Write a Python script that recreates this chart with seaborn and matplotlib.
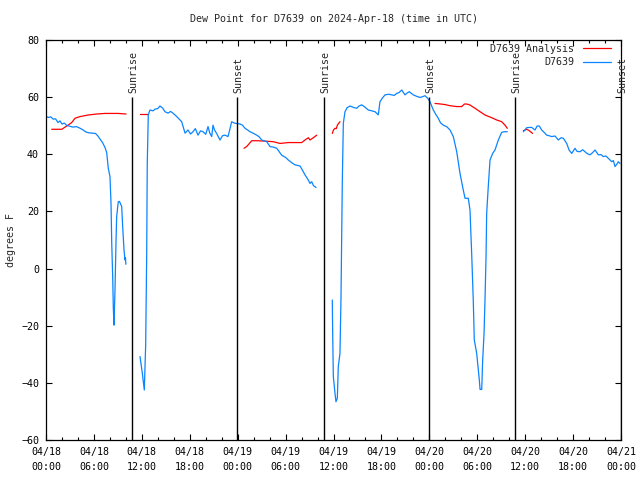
import numpy as np
import pandas as pd
import matplotlib
matplotlib.use("Agg")
import matplotlib.pyplot as plt
import matplotlib.dates as mdates
from matplotlib.lines import Line2D
import seaborn as sns

# hours after 2024-04-18 00:00 UTC, dew point in F
obs_hours = [
    [0.0, 0.3, 0.6, 0.9, 1.2, 1.5, 1.75, 2.0, 2.3, 2.6, 3.0, 3.4, 3.8, 4.2, 4.6, 5.0, 5.4,
     5.8, 6.2, 6.5, 6.8, 7.1, 7.4, 7.6, 7.8, 8.01, 8.14, 8.23, 8.35, 8.43, 8.51, 8.64, 8.77,
     8.85, 9.05, 9.2, 9.48, 9.6, 9.77, 9.89, 9.95, 10.0],
    [11.77, 12.06, 12.31, 12.48, 12.61, 12.68, 12.81, 13.02, 13.4, 13.65, 14.0, 14.27, 14.6,
     14.9, 15.28, 15.6, 15.9, 16.37, 16.99, 17.41, 17.78, 18.1, 18.41, 18.7, 19.03, 19.35,
     19.66, 20.0, 20.29, 20.5, 20.75, 20.91, 21.1, 21.37, 21.6, 21.79, 22.1, 22.41, 22.79,
     23.0, 23.25, 23.6, 23.88, 24.29, 24.6, 24.92, 25.2, 25.54, 26.0, 26.38, 26.7, 27.01,
     27.64, 28.05, 28.5, 28.89, 29.51, 30.0, 30.34, 30.8, 31.18, 31.81, 32.1, 32.43, 32.8,
     33.06, 33.27, 33.5, 33.81],
    [35.85, 35.9, 35.98, 36.19, 36.31, 36.48, 36.6, 36.81, 36.94, 37.1, 37.23, 37.44, 37.7,
     38.07, 38.5, 38.91, 39.2, 39.53, 39.9, 40.36, 40.8, 41.2, 41.61, 41.82, 42.1, 42.45,
     42.9, 43.29, 43.6, 43.91, 44.2, 44.54, 44.95, 45.2, 45.49, 45.99, 46.4, 46.83, 47.1,
     47.46, 47.8, 48.08, 48.5, 48.8, 49.12, 49.4, 49.75, 50.2, 50.59, 51.0, 51.43, 51.84,
     52.25, 52.47, 52.88, 53.09, 53.3, 53.5, 53.63, 53.93, 54.26, 54.35, 54.56, 54.68,
     54.85, 54.97, 55.1, 55.18, 55.38, 55.6, 55.93, 56.22, 56.64, 57.06, 57.4, 57.76],
    [59.77, 60.0, 60.19, 60.5, 60.82, 61.23, 61.5, 61.77, 62.07, 62.4, 62.7, 63.0, 63.32,
     63.74, 64.15, 64.5, 64.78, 65.2, 65.5, 65.83, 66.24, 66.5, 66.87, 67.2, 67.49, 67.8,
     68.12, 68.45, 68.75, 69.16, 69.5, 69.78, 70.1, 70.41, 70.84, 71.05, 71.25, 71.5,
     71.66, 71.87],
]
obs_dew = [
    [53.2, 52.9, 53.1, 52.3, 52.4, 51.1, 51.7, 50.6, 50.9, 50.1, 49.8, 49.5, 49.7, 49.2,
     48.6, 47.8, 47.5, 47.4, 47.3, 46.4, 45.2, 44.0, 42.3, 40.6, 35.1, 32.2, 22.9, 8.9, -2.8,
     -13.8, -19.8, -7.5, 10.0, 18.2, 23.4, 23.5, 21.7, 14.7, 6.5, 3.0, 3.8, 1.5],
    [-30.8, -36.6, -42.5, -26.8, 5.4, 37.0, 53.8, 55.5, 55.2, 55.8, 56.0, 56.9, 56.2, 54.9,
     54.4, 55.0, 54.4, 53.2, 51.4, 47.4, 48.5, 47.1, 47.9, 49.0, 46.7, 48.2, 47.9, 47.0,
     49.7, 47.5, 46.2, 50.2, 48.5, 47.3, 46.0, 45.0, 46.5, 46.7, 46.2, 48.5, 51.4, 50.9,
     50.8, 50.6, 50.2, 49.1, 48.6, 47.9, 47.3, 46.7, 46.1, 45.0, 44.4, 42.7, 42.5, 42.1, 39.7,
     38.9, 38.0, 37.0, 36.3, 35.9, 34.5, 32.8, 31.2, 29.8, 30.4, 29.0, 28.4],
    [-11.0, -23.3, -37.8, -43.7, -46.6, -45.4, -34.3, -29.7, -9.8, 29.8, 50.8, 54.9, 56.3,
     56.9, 56.4, 56.1, 56.9, 57.3, 56.6, 55.5, 55.2, 54.9, 53.8, 58.4, 59.6, 60.8, 61.0,
     60.8, 60.6, 61.3, 61.6, 62.5, 60.8, 61.4, 61.9, 60.8, 60.3, 59.9, 60.1, 60.5, 59.6,
     58.4, 55.5, 54.0, 52.6, 51.0, 50.2, 49.6, 48.5, 46.2, 40.9, 33.3, 27.5, 24.6, 24.6, 20.5,
     5.4, -11.0, -25.0, -29.7, -39.0, -42.3, -42.3, -32.0, -22.7, -11.0, 4.2, 19.3, 28.7,
     38.0, 40.3, 41.5, 45.0, 47.7, 47.9, 47.9],
    [47.9, 48.6, 49.3, 49.4, 49.4, 48.5, 49.9, 49.9, 48.5, 47.6, 46.7, 46.5, 46.2, 46.4, 45.0,
     45.8, 45.6, 43.8, 41.5, 40.3, 42.1, 41.0, 40.9, 41.6, 40.9, 40.2, 39.8, 40.6, 41.5, 39.8,
     39.9, 39.2, 39.4, 38.6, 37.4, 37.8, 35.7, 36.6, 37.4, 36.8],
]

ana_hours = [
    [0.71, 1.97, 2.6, 3.22, 3.63, 4.26, 5.3, 6.35, 7.39, 9.05, 10.02],
    [11.77, 12.81],
    [24.79, 25.13, 25.76, 26.38, 27.5, 28.46, 29.3, 30.34, 31.2, 32.02, 32.43, 32.85, 33.06,
     33.47, 33.9],
    [35.85, 36.0, 36.19, 36.35, 36.5, 36.81],
    [48.71, 49.4, 49.96, 50.59, 51.43, 52.05, 52.4, 52.68, 53.09, 53.72, 54.35, 54.97, 55.81,
     56.44, 57.06, 57.47, 57.76],
    [59.77, 60.19, 60.5, 60.93],
]
ana_dew = [
    [48.75, 48.75, 49.9, 51.1, 52.6, 53.2, 53.75, 54.1, 54.3, 54.3, 54.1],
    [54.1, 54.1],
    [42.1, 42.7, 44.75, 44.75, 44.6, 44.4, 43.8, 44.1, 44.1, 44.1, 45.0, 45.8, 45.0, 45.8, 46.7],
    [47.3, 48.5, 49.1, 49.0, 50.3, 51.4],
    [57.8, 57.6, 57.4, 57.0, 56.7, 56.7, 57.6, 57.6, 57.25, 56.1, 54.9, 53.75, 52.8, 52.0,
     51.4, 50.2, 49.1],
    [48.25, 48.75, 48.3, 47.3],
]

sunrise_hours = [10.77, 34.8, 58.73]
sunset_hours = [23.92, 47.96, 72.0]

start = pd.Timestamp("2024-04-18 00:00")
red = "#ff0000"
blue = "#0a84ff"


def to_frame(hours, values):
    rows = []
    for seg, (hh, vv) in enumerate(zip(hours, values)):
        for h, v in zip(hh, vv):
            rows.append({"time": start + pd.to_timedelta(h, unit="h"), "dew": v, "seg": seg})
    return pd.DataFrame(rows)


obs = to_frame(obs_hours, obs_dew)
ana = to_frame(ana_hours, ana_dew)

sns.set_style("ticks")
plt.rcParams["font.family"] = ["DejaVu Sans Mono"]
plt.rcParams["font.size"] = 7.2

fig = plt.figure(figsize=(6.4, 4.8), dpi=100)
ax = fig.add_axes([46 / 640, 40 / 480, 575 / 640, 400 / 480])

sns.lineplot(data=ana, x="time", y="dew", units="seg", estimator=None, color=red,
             linewidth=0.9, ax=ax, legend=False)
sns.lineplot(data=obs, x="time", y="dew", units="seg", estimator=None, color=blue,
             linewidth=0.9, ax=ax, legend=False)

for h in sunrise_hours + sunset_hours:
    t = start + pd.to_timedelta(h, unit="h")
    ax.vlines(t, -60, 60, color="black", linewidth=1.0, zorder=3)
for h in sunrise_hours:
    t = start + pd.to_timedelta(h + 0.2, unit="h")
    ax.text(t, 61.6, "Sunrise", rotation=90, ha="center", va="bottom", fontsize=7.2)
for h in sunset_hours:
    t = start + pd.to_timedelta(h + 0.2, unit="h")
    ax.text(t, 61.6, "Sunset", rotation=90, ha="center", va="bottom", fontsize=7.2)

ax.set_xlim(start, start + pd.Timedelta(hours=72))
ax.set_ylim(-60, 80)
ax.set_yticks(np.arange(-60, 81, 20))
ax.xaxis.set_major_locator(mdates.HourLocator(byhour=[0, 6, 12, 18]))
ax.xaxis.set_minor_locator(mdates.HourLocator(byhour=range(0, 24, 2)))
ax.xaxis.set_major_formatter(mdates.DateFormatter("%m/%d\n%H:%M"))
for lab in ax.get_xticklabels():
    lab.set_linespacing(1.6)

ax.tick_params(axis="both", which="both", direction="in", top=True, right=True,
               colors="black", labelsize=7.2)
ax.tick_params(axis="both", which="major", length=4.5, width=0.8)
ax.tick_params(axis="x", which="minor", length=2.5, width=0.8)
ax.tick_params(axis="x", which="major", pad=5)
ax.tick_params(axis="y", which="major", pad=5)
for sp in ax.spines.values():
    sp.set_color("black")
    sp.set_linewidth(0.9)

ax.set_xlabel("")
ax.set_ylabel("degrees F", fontsize=7.2, labelpad=4)
ax.set_title("Dew Point for D7639 on 2024-Apr-18 (time in UTC)", fontsize=7.2, pad=13)

handles = [Line2D([], [], color=red, linewidth=0.9),
           Line2D([], [], color=blue, linewidth=0.9)]
ax.legend(handles, ["D7639 Analysis", "D7639"], loc="upper right",
          bbox_to_anchor=(1 - 8 / 575, 1 - 2 / 400), frameon=False,
          markerfirst=False, handlelength=2.8, handletextpad=0.9, labelspacing=0.35,
          borderaxespad=0.0, borderpad=0.2, fontsize=7.2)

fig.savefig("out.png", dpi=100)
